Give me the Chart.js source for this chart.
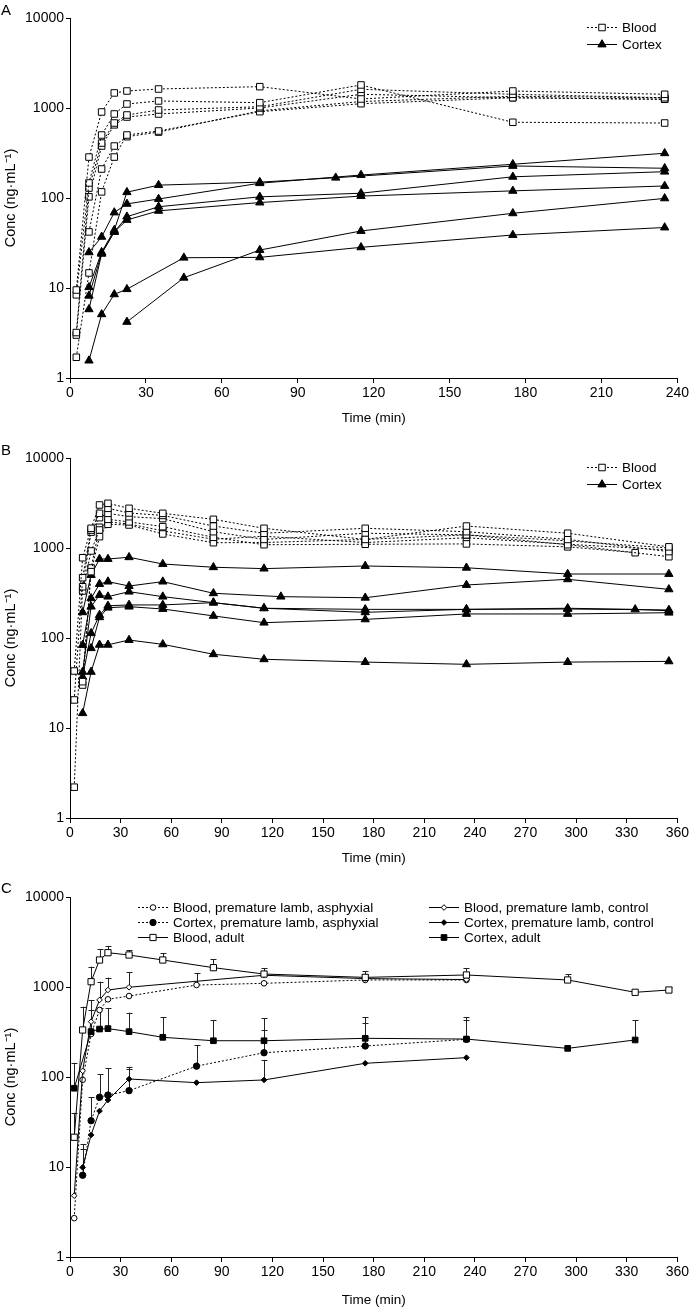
<!DOCTYPE html>
<html lang="en">
<head>
  <meta charset="UTF-8">
  <title>Conc vs time</title>
  <script src="https://cdn.jsdelivr.net/npm/chart.js"></script>
  <style>
    body { margin: 0; background: #fff; width: 691px; height: 1308px; overflow: hidden; position: relative; }
    canvas { position: absolute; left: 0; }
  </style>
</head>
<body>
  <canvas id="chartA" width="691" height="430" style="top:0"></canvas>
  <canvas id="chartB" width="691" height="440" style="top:430px"></canvas>
  <canvas id="chartC" width="691" height="438" style="top:870px"></canvas>

  <script>
    // y tick values (log axis)
    const yTicks = [1, 10, 100, 1000, 10000];

    // Panel A - sampling times (min)
    const timesA = [2.5, 7.5, 12.5, 17.5, 22.5, 35, 45, 75, 105, 115, 175, 235];
    const bloodA1 = [9.5, 285, 903, 1470, 1545, 1626, null, 1726, null, 1260, 1545, 1420];
    const bloodA2 = [8.4, 147, 501, 858, 1108, 1197, null, 1146, null, 1803, 694, 681];
    const bloodA3 = [3.2, 129, 408, 681, 836, 950, null, 1033, null, 1614, 1420, 1300];
    const bloodA4 = [3.0, 103, 378, 650, 794, 858, null, 1000, null, 1420, 1300, 1250];
    const bloodA5 = [1.7, 14.7, 117, 285, 501, 555, null, 910, null, 1116, 1300, 1250];
    const bloodA6 = [null, 42, 210, 378, 480, 540, null, 930, null, 1180, 1350, 1300];
    const cortexA1 = [null, 24.9, 37, 69, 86, 97.5, null, 146, null, 180, 237, 314];
    const cortexA2 = [null, 10.2, 25, 44, 116, 139, null, 150, 168, null, 227, 214];
    const cortexA3 = [null, 8.2, 24.3, 42, 62, 80, null, 103, null, 113, 172, 196];
    const cortexA4 = [null, 5.8, 24, 42, 57, 72, null, 89, null, 105, 120, 136];
    const cortexA5 = [null, 1.56, 5.1, 8.5, 9.7, null, 21.7, 21.9, null, 28.3, 38.8, 47];
    const cortexA6 = [null, null, null, null, 4.2, null, 13, 26.4, null, 43, 67.6, 99];

    // Panel B
    const timesB = [2.5, 7.5, 12.5, 17.5, 22.5, 35, 55, 85, 115, 125, 175, 235, 295, 335, 355];
    const bloodB1 = [43, 779, 1655, 3006, 3137, 2760, 2428, 2083, 1655, null, 1245, 1754, 1459, null, 1030];
    const bloodB2 = [20.5, 468, 1580, 2428, 2760, 2450, 2300, 1754, 1459, null, 1655, 1518, 1245, null, 912];
    const bloodB3 = [2.2, 371, 1500, 2173, 2428, 2228, 2122, 1518, 1245, null, 1459, 1400, 1088, null, 800];
    const bloodB4 = [null, 333, 927, 1585, 2083, 1950, 1726, 1315, 1088, null, 1100, 1110, 1030, 887, null];
    const bloodB5 = [null, 32.7, 546, 1336, 1834, 1802, 1432, 1145, 1150, null, 1245, 1400, 1200, null, 1000];
    const bloodB6 = [null, 30, 600, 1700, 1950, 1850, 1550, 1250, 1350, null, 1150, 1300, 1100, null, 950];
    const cortexB1 = [null, 193, 501, 755, 755, 789, 664, 611, 590, null, 631, 603, 514, null, 514];
    const cortexB2 = [null, 83.6, 276, 398, 423, 378, 423, 314, null, 288, 280, 388, 449, null, 347];
    const cortexB3 = [null, 42, 223, 300, 288, 327, 288, 247, 214, null, 208, 208, 214, 208, 201];
    const cortexB4 = [null, 37, 113, 180, 228, 233, 233, 247, 214, null, 193, 208, 210, null, 205];
    const cortexB5 = [null, null, 77, 170, 217, 223, 210, 176, 148, null, 161, 185, 185, null, 191];
    const cortexB6 = [null, 14.6, 42, 84, 84, 95, 85, 66, 58, null, 54, 51, 54, null, 55];

    // Panel C - means and upper error values
    const timesC = [2.5, 7.5, 12.5, 17.5, 22.5, 35, 55, 75, 85, 115, 175, 235, 295, 335, 355];
    const bloodAsph      = [2.7, 93, 300, 555, 730, 794, null, 1052, null, 1099, 1197, 1197, null, null, null];
    const bloodAsphErr   = [null, null, null, null, null, null, null, 1419, null, null, 1360, null, null, null, null];
    const cortexAsph     = [null, 8.1, 32.7, 59.5, 63, 70.5, null, 132, null, 186, 221, 262, null, null, null];
    const cortexAsphErr  = [null, 18, 59.5, 108, 125, 123, null, 227, null, 333, 395, 430, null, null, null];
    const bloodAdult     = [21.4, 333, 1145, 1995, 2405, 2268, 1995, null, 1640, 1393, 1279, 1360, 1197, 873, 926];
    const bloodAdultErr  = [40, 604, 1683, 2624, 2855, 2577, 2366, null, 2045, 1612, 1506, 1612, 1383, null, 990];
    const bloodCtrl      = [4.8, 117, 412, 718, 926, 993, null, null, null, 1350, 1240, 1210, null, null, null];
    const bloodCtrlErr   = [null, null, 718, 1145, 1270, 1450, null, null, null, null, null, null, null, null, null];
    const cortexCtrl     = [null, 9.9, 22.7, 41.9, 55.5, 95, null, 86.5, null, 92.7, 142, 164, null, null, null];
    const cortexCtrlErr  = [null, 16, null, null, null, 130, null, null, null, 155, null, null, null, null, null];
    const cortexAdult    = [75, null, 319, 341, 345, 319, 276, null, 253, 253, 269, 264, 208, 258, null];
    const cortexAdultErr = [144, null, 560, 580, 585, 519, 460, null, 430, 449, 460, 460, null, 430, null];

    const FONT = '"Liberation Sans", Arial, sans-serif';
    Chart.defaults.font.family = FONT;
    Chart.defaults.font.size = 14;
    Chart.defaults.color = '#000';

    // marker/line looks
    const dotted = [2, 2];
    const sqOpen = { pointStyle: 'rect', pointRadius: 4.6, pointBackgroundColor: '#fff' };
    const triFill = { pointStyle: 'triangle', pointRadius: 4.8, pointBackgroundColor: '#000' };

    function pts(times, vals, errs) {
      const out = [];
      times.forEach((t, i) => {
        if (vals[i] == null) return;
        out.push({ x: t, y: vals[i], err: errs ? errs[i] : null });
      });
      return out;
    }

    function series(times, vals, look, dash, errs) {
      return Object.assign({
        data: pts(times, vals, errs),
        borderColor: '#000',
        borderWidth: 1,
        borderDash: dash,
        pointBorderColor: '#000',
        pointBorderWidth: 1,
        fill: false,
        tension: 0
      }, look);
    }

    // upper error bars with caps
    const errorBars = {
      id: 'errorBars',
      beforeDatasetsDraw(chart) {
        const ctx = chart.ctx;
        const yScale = chart.scales.y;
        ctx.save();
        ctx.strokeStyle = '#222';
        ctx.lineWidth = 1;
        ctx.setLineDash([]);
        chart.data.datasets.forEach((ds, i) => {
          const meta = chart.getDatasetMeta(i);
          ds.data.forEach((p, j) => {
            if (p.err == null) return;
            const el = meta.data[j];
            const top = yScale.getPixelForValue(p.err);
            const x = Math.round(el.x) + 0.5;
            ctx.beginPath();
            ctx.moveTo(x, el.y);
            ctx.lineTo(x, top);
            ctx.moveTo(x - 3, Math.round(top) + 0.5);
            ctx.lineTo(x + 3, Math.round(top) + 0.5);
            ctx.stroke();
          });
        });
        ctx.restore();
      }
    };

    // panel letter + key
    function keyPlugin(letter, letterY, items) {
      return {
        id: 'key',
        afterDraw(chart) {
          const ctx = chart.ctx;
          ctx.save();
          ctx.fillStyle = '#000';
          ctx.font = '15px ' + FONT;
          ctx.textBaseline = 'alphabetic';
          ctx.fillText(letter, 1, letterY);
          ctx.font = '13.5px ' + FONT;
          ctx.textBaseline = 'middle';
          items.forEach(it => {
            ctx.strokeStyle = '#000';
            ctx.lineWidth = 1;
            ctx.setLineDash(it.dash);
            ctx.beginPath();
            ctx.moveTo(it.x, it.y + 0.5);
            ctx.lineTo(it.x + 30, it.y + 0.5);
            ctx.stroke();
            ctx.setLineDash([]);
            ctx.fillStyle = it.look.pointBackgroundColor;
            Chart.helpers.drawPoint(ctx, {
              pointStyle: it.look.pointStyle, radius: it.look.pointRadius, borderWidth: 1, rotation: 0
            }, it.x + 15, it.y + 0.5);
            ctx.fillStyle = '#000';
            ctx.fillText(it.text, it.x + 35, it.y + 1);
          });
          ctx.restore();
        }
      };
    }

    function makeChart(id, xMax, padTop, xHeight, titleBottom, datasets, plugins) {
      return new Chart(document.getElementById(id), {
        type: 'line',
        data: { datasets },
        options: {
          responsive: false,
          animation: false,
          events: [],
          layout: { padding: { top: padTop, right: 11, left: 0, bottom: 0 } },
          plugins: { legend: { display: false }, tooltip: { enabled: false } },
          scales: {
            x: {
              type: 'linear', min: 0, max: xMax,
              ticks: { stepSize: 30, padding: 2, maxRotation: 0, autoSkip: false, color: '#000' },
              grid: { drawOnChartArea: false, tickLength: 5, color: '#000' },
              border: { color: '#000' },
              title: { display: true, text: 'Time (min)', color: '#000', font: { size: 13.5 }, padding: { top: 0, bottom: titleBottom } },
              afterFit: s => { s.height = xHeight; }
            },
            y: {
              type: 'logarithmic', min: 1, max: 10000,
              afterBuildTicks: s => { s.ticks = yTicks.map(v => ({ value: v })); },
              ticks: { callback: v => String(v), padding: 2, autoSkip: false, color: '#000' },
              grid: { drawOnChartArea: false, tickLength: 4, color: '#000' },
              border: { color: '#000' },
              title: { display: true, text: 'Conc (ng·mL⁻¹)', color: '#000', font: { size: 14.5 }, padding: { top: 2, bottom: 0 } },
              afterFit: s => { s.width = 70; }
            }
          }
        },
        plugins
      });
    }

    // Panel A
    const keyAB = (y0) => [
      { text: 'Blood', x: 587, y: y0, dash: dotted, look: sqOpen },
      { text: 'Cortex', x: 587, y: y0 + 17, dash: [], look: triFill }
    ];
    makeChart('chartA', 240, 18, 52, 4, [
      ...[bloodA1, bloodA2, bloodA3, bloodA4, bloodA5, bloodA6].map(v => series(timesA, v, sqOpen, dotted)),
      ...[cortexA1, cortexA2, cortexA3, cortexA4, cortexA5, cortexA6].map(v => series(timesA, v, triFill, []))
    ], [keyPlugin('A', 15, keyAB(27))]);

    // Panel B
    makeChart('chartB', 360, 28, 52, 4, [
      ...[bloodB1, bloodB2, bloodB3, bloodB4, bloodB5, bloodB6].map(v => series(timesB, v, sqOpen, dotted)),
      ...[cortexB1, cortexB2, cortexB3, cortexB4, cortexB5, cortexB6].map(v => series(timesB, v, triFill, []))
    ], [keyPlugin('B', 25, keyAB(37))]);

    // Panel C
    const circOpen = { pointStyle: 'circle', pointRadius: 2.8, pointBackgroundColor: '#fff' };
    const circFill = { pointStyle: 'circle', pointRadius: 3.2, pointBackgroundColor: '#000' };
    const sqOpenC = { pointStyle: 'rect', pointRadius: 4.4, pointBackgroundColor: '#fff' };
    const sqFillC = { pointStyle: 'rect', pointRadius: 4.0, pointBackgroundColor: '#000' };
    const diaOpen = { pointStyle: 'rectRot', pointRadius: 2.8, pointBackgroundColor: '#fff' };
    const diaFill = { pointStyle: 'rectRot', pointRadius: 2.8, pointBackgroundColor: '#000' };

    makeChart('chartC', 360, 27, 51, 0, [
      series(timesC, cortexAdult, sqFillC, [], cortexAdultErr),
      series(timesC, cortexCtrl, diaFill, [], cortexCtrlErr),
      series(timesC, cortexAsph, circFill, dotted, cortexAsphErr),
      series(timesC, bloodAdult, sqOpenC, [], bloodAdultErr),
      series(timesC, bloodCtrl, diaOpen, [], bloodCtrlErr),
      series(timesC, bloodAsph, circOpen, dotted, bloodAsphErr)
    ], [errorBars, keyPlugin('C', 23, [
      { text: 'Blood, premature lamb, asphyxial', x: 138, y: 37, dash: dotted, look: circOpen },
      { text: 'Cortex, premature lamb, asphyxial', x: 138, y: 52, dash: dotted, look: circFill },
      { text: 'Blood, adult', x: 138, y: 67, dash: [], look: sqOpenC },
      { text: 'Blood, premature lamb, control', x: 429, y: 37, dash: [], look: diaOpen },
      { text: 'Cortex, premature lamb, control', x: 429, y: 52, dash: [], look: diaFill },
      { text: 'Cortex, adult', x: 429, y: 67, dash: [], look: sqFillC }
    ])]);
  </script>
</body>
</html>
